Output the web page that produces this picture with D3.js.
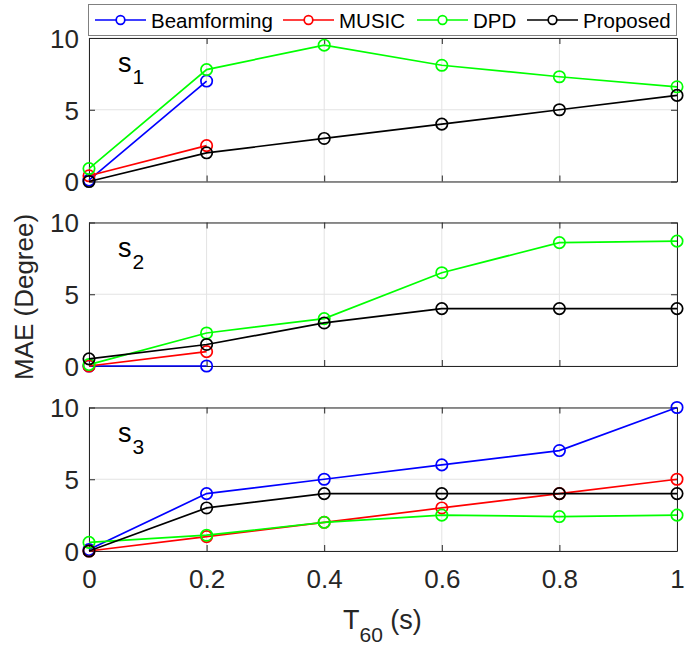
<!DOCTYPE html>
<html><head><meta charset="utf-8">
<script src="https://cdn.jsdelivr.net/npm/d3@7"></script>
<style>body{margin:0;background:#fff}svg{display:block;font-family:"Liberation Sans",Arial,sans-serif}</style>
</head><body><svg id="c" width="692" height="646"></svg>
<script>
const xValues = [0, 0.2, 0.4, 0.6, 0.8, 1];
const xTickLabels = ["0", "0.2", "0.4", "0.6", "0.8", "1"];
const yTicks = [0, 5, 10];
const seriesNames = ["Beamforming", "MUSIC", "DPD", "Proposed"];
const seriesColors = ["#0000ff", "#ff0000", "#00ff00", "#000000"];
const panelLabels = ["1", "2", "3"];
// s1
const s1Beamforming = [0.1, 7.0];
const s1Music = [0.4, 2.5];
const s1Dpd = [0.9, 7.8, 9.5, 8.1, 7.3, 6.6];
const s1Proposed = [0, 2, 3, 4, 5, 6];
// s2
const s2Beamforming = [0, 0];
const s2Music = [0, 1];
const s2Dpd = [0.1, 2.3, 3.3, 6.5, 8.6, 8.7];
const s2Proposed = [0.5, 1.5, 3, 4, 4, 4];
// s3
const s3Beamforming = [0.1, 4, 5, 6, 7, 10];
const s3Music = [0, 1, 2, 3, 4, 5];
const s3Dpd = [0.6, 1.1, 2, 2.5, 2.4, 2.5];
const s3Proposed = [0, 3, 4, 4, 4, 4];

const panels = [
  [s1Beamforming, s1Music, s1Dpd, s1Proposed],
  [s2Beamforming, s2Music, s2Dpd, s2Proposed],
  [s3Beamforming, s3Music, s3Dpd, s3Proposed]
];
const panelTops = [38, 222.5, 407.5];
const panelH = 143.5;
const left = 89, right = 677;

const svg = d3.select("#c");
const x = d3.scaleLinear().domain([0, 1]).range([left, right]);
const axisCol = "#262626";

panels.forEach((series, pi) => {
  const top = panelTops[pi];
  const y = d3.scaleLinear().domain([0, 10]).range([top + panelH, top]);
  const g = svg.append("g");
  // grid
  g.append("g").selectAll("line").data(xValues).join("line")
    .attr("x1", d => x(d)).attr("x2", d => x(d)).attr("y1", top).attr("y2", top + panelH)
    .attr("stroke", "#e3e3e3").attr("stroke-width", 1);
  g.append("g").selectAll("line").data(yTicks).join("line")
    .attr("x1", left).attr("x2", right).attr("y1", d => y(d)).attr("y2", d => y(d))
    .attr("stroke", "#e3e3e3").attr("stroke-width", 1);
  // axes
  const xa = g.append("g").attr("transform", `translate(0,${top + panelH})`)
    .call(d3.axisBottom(x).tickValues(xValues).tickSizeInner(-6).tickSizeOuter(0)
      .tickFormat((d, i) => pi === 2 ? xTickLabels[i] : ""));
  xa.select(".domain").attr("stroke", axisCol);
  xa.selectAll(".tick line").attr("stroke", axisCol);
  xa.selectAll("text").attr("font-size", 26).attr("fill", axisCol).attr("dy", 0).attr("y", 37);
  const xt = g.append("g").attr("transform", `translate(0,${top})`)
    .call(d3.axisTop(x).tickValues(xValues).tickSizeInner(-6).tickSizeOuter(0).tickFormat(""));
  xt.select(".domain").attr("stroke", axisCol);
  xt.selectAll(".tick line").attr("stroke", axisCol);
  const ya = g.append("g").attr("transform", `translate(${left},0)`)
    .call(d3.axisLeft(y).tickValues(yTicks).tickSizeInner(-6).tickSizeOuter(0));
  ya.select(".domain").attr("stroke", axisCol);
  ya.selectAll(".tick line").attr("stroke", axisCol);
  ya.selectAll("text").attr("font-size", 26).attr("fill", axisCol).attr("x", -10).attr("dy", "0.36em");
  const yr = g.append("g").attr("transform", `translate(${right},0)`)
    .call(d3.axisRight(y).tickValues(yTicks).tickSizeInner(-6).tickSizeOuter(0).tickFormat(""));
  yr.select(".domain").attr("stroke", axisCol);
  yr.selectAll(".tick line").attr("stroke", axisCol);

  // series
  series.forEach((vals, si) => {
    const pts = vals.map((v, i) => [xValues[i], v]);
    g.append("path").datum(pts)
      .attr("d", d3.line().x(d => x(d[0])).y(d => y(d[1])))
      .attr("fill", "none").attr("stroke", seriesColors[si]).attr("stroke-width", 1.7);
    g.selectAll(null).data(pts).join("circle")
      .attr("cx", d => x(d[0])).attr("cy", d => y(d[1])).attr("r", 5.7)
      .attr("fill", "none").attr("stroke", seriesColors[si]).attr("stroke-width", 1.7);
  });
  // label
  const t = g.append("text").attr("x", 118).attr("y", top + 34).attr("font-size", 27).attr("fill", "#000");
  t.append("tspan").text("s");
  t.append("tspan").attr("dy", 12).attr("dx", 1).attr("font-size", 21).text(panelLabels[pi]);
});

// y label
svg.append("text").attr("transform", "translate(33,297) rotate(-90)")
  .attr("text-anchor", "middle").attr("font-size", 26).attr("fill", axisCol).text("MAE (Degree)");
// x label
const xl = svg.append("text").attr("x", 343).attr("y", 629)
  .attr("font-size", 27).attr("fill", axisCol);
xl.append("tspan").text("T");
xl.append("tspan").attr("dy", 13).attr("dx", 0).attr("font-size", 21).text("60");
xl.append("tspan").attr("dy", -13).text(" (s)");

// legend
const lg = svg.append("g");
lg.append("rect").attr("x", 88.5).attr("y", 4.5).attr("width", 588).attr("height", 31)
  .attr("fill", "#fff").attr("stroke", "#808080").attr("stroke-width", 1);
const legX = [95, 283, 417, 527];
seriesNames.forEach((n, i) => {
  const lx = legX[i];
  lg.append("line").attr("x1", lx).attr("x2", lx + 51).attr("y1", 20).attr("y2", 20)
    .attr("stroke", seriesColors[i]).attr("stroke-width", 1.7);
  lg.append("circle").attr("cx", lx + 25.5).attr("cy", 20).attr("r", 4.3)
    .attr("fill", "#fff").attr("stroke", seriesColors[i]).attr("stroke-width", 1.7);
  lg.append("text").attr("x", lx + 56).attr("y", 27.5).attr("font-size", 20.5).attr("fill", "#000").text(n);
});
</script></body></html>
